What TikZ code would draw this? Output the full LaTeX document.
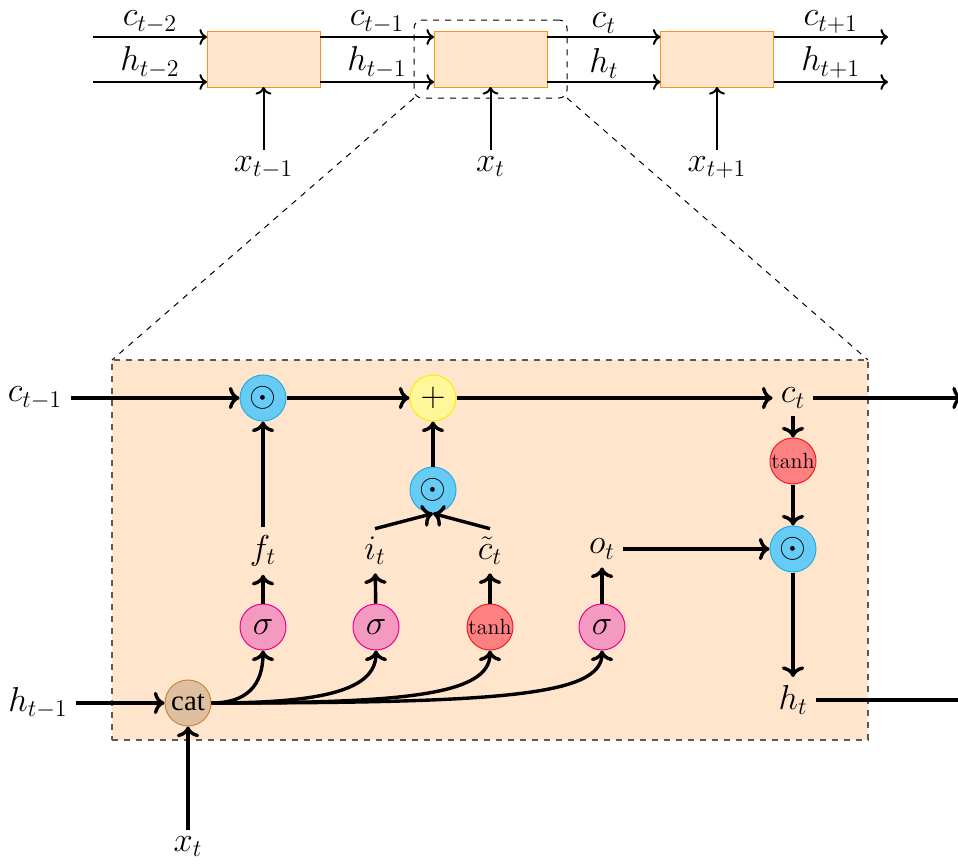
\documentclass[tikz,border=0pt]{standalone}
\usepackage{fontspec}
\newfontfamily\catfont{Liberation Serif}
\usetikzlibrary{arrows.meta,calc}
\definecolor{peach}{RGB}{255,229,204}
\definecolor{boxorange}{RGB}{247,148,29}
\definecolor{odotfill}{RGB}{102,204,245}
\definecolor{odotdraw}{RGB}{41,171,226}
\definecolor{plusfill}{RGB}{255,247,153}
\definecolor{plusdraw}{RGB}{255,236,0}
\definecolor{tanhfill}{RGB}{255,128,128}
\definecolor{tanhdraw}{RGB}{237,28,36}
\definecolor{sigfill}{RGB}{244,154,193}
\definecolor{sigdraw}{RGB}{236,0,140}
\definecolor{catfill}{RGB}{222,192,160}
\definecolor{catdraw}{RGB}{198,134,66}
\definecolor{framegray}{RGB}{90,90,90}
\begin{document}
\begin{tikzpicture}[x=0.5pt,y=-0.5pt,
  font=\fontsize{17.28}{20}\selectfont,
  cellbox/.style={draw=boxorange,fill=peach,minimum width=56.5pt,minimum height=28pt,inner sep=0pt,outer sep=0pt,line width=0.5pt},
  toparr/.style={->,line width=1pt},
  lowarr/.style={->,line width=1.7pt},
  lab/.style={inner sep=4pt},
  toplab/.style={midway,above,inner sep=1.5pt},
  gate/.style={circle,minimum size=23pt,inner sep=0pt,line width=0.5pt},
  odotc/.style={gate,fill=odotfill,draw=odotdraw},
  plusc/.style={gate,fill=plusfill,draw=plusdraw},
  tanhc/.style={gate,fill=tanhfill,draw=tanhdraw,font=\fontsize{11}{13}\selectfont},
  sigc/.style={gate,fill=sigfill,draw=sigdraw},
  catc/.style={gate,fill=catfill,draw=catdraw,font=\catfont\fontsize{14.4}{16}\selectfont}
]
\useasboundingbox (0,0) rectangle (958,863);

% ---------- top chain ----------
\node[cellbox] (b1) at (263.5,59) {};
\node[cellbox] (b2) at (490.5,59) {};
\node[cellbox] (b3) at (717,59) {};
\node[draw,dashed,rounded corners=4pt,minimum width=76.5pt,minimum height=39pt,inner sep=0pt,outer sep=0pt,line width=0.5pt] (zs) at (490.5,59) {};

\coordinate (cin) at (93,37);
\coordinate (hin) at (93,82);
\coordinate (cout) at (888,37);
\coordinate (hout) at (888,82);

\draw[toparr] (cin) -- (cin -| b1.west) node[toplab] {$c_{t-2}$};
\draw[toparr] (hin) -- (hin -| b1.west) node[toplab] {$h_{t-2}$};
\draw[toparr] (b1.east |- cin) -- (b2.west |- cin) node[toplab] {$c_{t-1}$};
\draw[toparr] (b1.east |- hin) -- (b2.west |- hin) node[toplab] {$h_{t-1}$};
\draw[toparr] (b2.east |- cin) -- (b3.west |- cin) node[toplab] {$c_{t}$};
\draw[toparr] (b2.east |- hin) -- (b3.west |- hin) node[toplab] {$h_{t}$};
\draw[toparr] (b3.east |- cin) -- (cout) node[toplab] {$c_{t+1}$};
\draw[toparr] (b3.east |- hin) -- (hout) node[toplab] {$h_{t+1}$};

\node[anchor=north,inner sep=3pt] (x1) at (263.5,150) {$x_{t-1}$};
\node[anchor=north,inner sep=3pt] (x2) at (490.5,150) {$x_{t}$};
\node[anchor=north,inner sep=3pt] (x3) at (717,150) {$x_{t+1}$};
\draw[toparr] (x1) -- (b1);
\draw[toparr] (x2) -- (b2);
\draw[toparr] (x3) -- (b3);

% ---------- big cell ----------
\node[draw=framegray,fill=peach,dashed,line width=0.7pt,minimum width=378pt,minimum height=190pt,inner sep=0pt,outer sep=0pt] (cell) at (490,550) {};
\draw[dashed,line width=0.5pt] (zs.south west) -- (cell.north west);
\draw[dashed,line width=0.5pt] (zs.south east) -- (cell.north east);

\node[lab] (cprev) at (35,398) {$c_{t-1}$};
\node[odotc] (o1) at (263,398) {$\odot$};
\node[plusc] (pl) at (433,398) {$+$};
\node[lab] (ct) at (793,398) {$c_t$};
\coordinate (ctout) at (963,398);
\node[tanhc] (th2) at (793,461) {tanh};
\node[odotc] (o3) at (793,549) {$\odot$};
\node[lab] (ht) at (793,700) {$h_t$};
\coordinate (htout) at (995,700);
\node[odotc] (o2) at (433,490) {$\odot$};
\node[lab] (ft) at (263,551) {$f_t$};
\node[lab] (it) at (375,551) {$i_t$};
\node[lab] (cti) at (490,551) {$\tilde{c}_t$};
\node[lab] (ot) at (602,549) {$o_t$};
\node[sigc] (s1) at (263,627) {$\sigma$};
\node[sigc] (s2) at (376,627) {$\sigma$};
\node[tanhc] (s3) at (490,627) {tanh};
\node[sigc] (s4) at (602,627) {$\sigma$};
\node[catc] (cat) at (188,703) {cat};
\node[lab] (hprev) at (38,703) {$h_{t-1}$};
\node[anchor=north,inner sep=3pt] (xt) at (188,830) {$x_t$};

\draw[lowarr] (cprev) -- (o1);
\draw[lowarr] (o1) -- (pl);
\draw[lowarr] (pl) -- (ct);
\draw[lowarr] (ct) -- (ctout);
\draw[lowarr] (ct) -- (th2);
\draw[lowarr] (th2) -- (o3);
\draw[lowarr] (o3) -- (ht);
\draw[lowarr] (ht) -- (htout);
\draw[lowarr] (ot) -- (o3);
\draw[lowarr] (o2) -- (pl);
\draw[lowarr] (it.north) -- (o2.south);
\draw[lowarr] (cti.north) -- (o2.south);
\draw[lowarr] (ft) -- (o1);
\draw[lowarr] (s1) -- (ft);
\draw[lowarr] (s2) -- (it);
\draw[lowarr] (s3) -- (cti);
\draw[lowarr] (s4) -- (ot);
\draw[lowarr] (hprev) -- (cat);
\draw[lowarr] (xt) -- (cat);
\draw[lowarr] (cat.east) .. controls +(35,0) and +(0,35) .. (s1.south);
\draw[lowarr] (cat.east) .. controls +(110,0) and +(0,40) .. (s2.south);
\draw[lowarr] (cat.east) .. controls +(190,0) and +(0,45) .. (s3.south);
\draw[lowarr] (cat.east) .. controls +(290,0) and +(0,45) .. (s4.south);
\end{tikzpicture}
\end{document}
